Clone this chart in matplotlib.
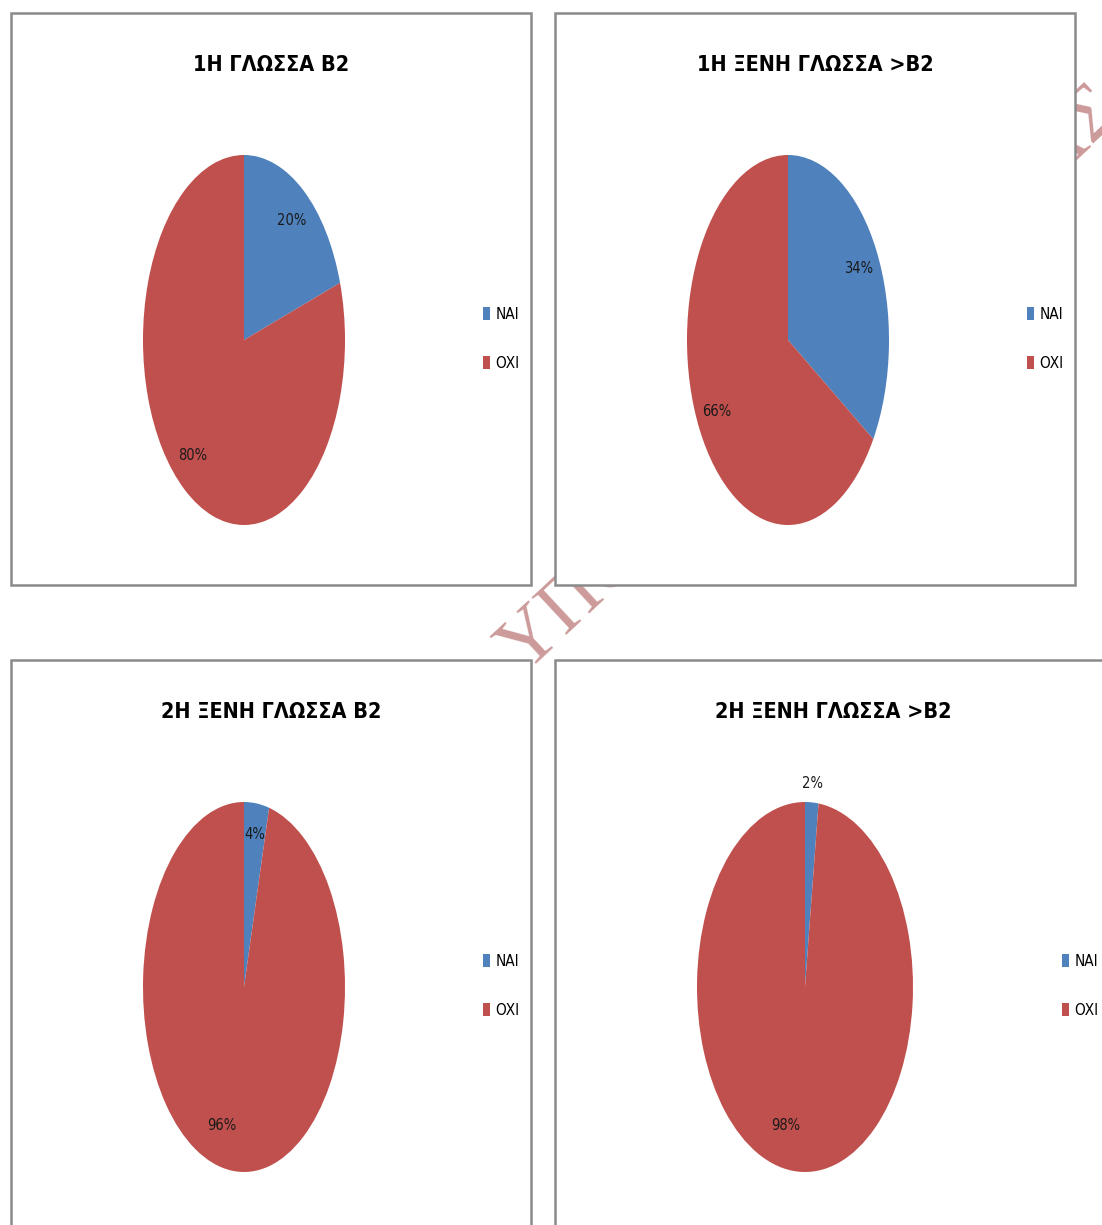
import matplotlib
matplotlib.use("Agg")
import matplotlib.pyplot as plt
from matplotlib.patches import Rectangle, Patch
import numpy as np

titles = ["1Η ΓΛΩΣΣΑ Β2", "1Η ΞΕΝΗ ΓΛΩΣΣΑ >Β2", "2Η ΞΕΝΗ ΓΛΩΣΣΑ Β2", "2Η ΞΕΝΗ ΓΛΩΣΣΑ >Β2"]
categories = ["ΝΑΙ", "ΟΧΙ"]
nai = [20, 34, 4, 2]
oxi = [80, 66, 96, 98]
colors = ["#4F81BD", "#C0504D"]

plt.rcParams['font.family'] = ['DejaVu Sans']
plt.rcParams['font.stretch'] = 'condensed'

W, H = 1102, 1225
fig = plt.figure(figsize=(W / 100, H / 100), dpi=100)

def fx(px):
    return px / W

def fy(py):
    return 1 - py / H

# panel frames (pixel boxes: left, top, right, bottom)
panels = [(11, 13, 531, 585), (555, 13, 1075, 585), (11, 660, 531, 1240), (555, 660, 1120, 1240)]
# pie ellipse: centre x, centre y, radius x, radius y
pies = [(244, 340, 101, 185), (788, 340, 101, 185), (244, 987, 101, 185), (805, 987, 108, 185)]
title_x = [271, 815, 271, 833]
legend_x = [483, 1027, 483, 1062]
label_dist = [[0.8, 0.8], [0.8, 0.8], [0.83, 0.78], [1.1, 0.77]]
label_turn = [[0, -3], [0, 0], [0, -9], [0, -10]]

# watermark behind the panels
fig.text(fx(524), fy(674), "ΥΠΟΥΡΓΕΙΟ ΠΑΙΔΕΙΑΣ", rotation=43, rotation_mode='anchor',
         ha='left', va='baseline', fontsize=56, color='#CD9A9A', family='Liberation Serif',
         stretch='normal', zorder=-3)

for i in range(4):
    l, t, r, b = panels[i]
    fig.patches.append(Rectangle((fx(l), fy(b)), fx(r - l), fy(t) - fy(b), transform=fig.transFigure,
                                 facecolor='white', edgecolor='#8A8A8A', linewidth=1.8, zorder=-2))

    cx, cy, rx, ry = pies[i]
    ax = fig.add_axes([fx(cx - rx), fy(cy + ry), fx(2 * rx), fy(cy - ry) - fy(cy + ry)])
    ax.set_zorder(1)
    ax.patch.set_visible(False)
    wedges, texts, autotexts = ax.pie([nai[i], oxi[i]], colors=colors, startangle=90, counterclock=False,
                                      autopct='%d%%', pctdistance=0.8, radius=1,
                                      textprops={'fontsize': 10.5, 'color': '#1a1a1a'})
    for w, at, d, turn in zip(wedges, autotexts, label_dist[i], label_turn[i]):
        ang = np.deg2rad((w.theta1 + w.theta2) / 2 + turn)
        at.set_position((d * np.cos(ang), d * np.sin(ang)))
    ax.set_xlim(-1, 1)
    ax.set_ylim(-1, 1)
    ax.set_aspect('auto')
    ax.axis('off')

    fig.text(fx(title_x[i]), fy(t + 52), titles[i], ha='center', va='center',
             fontsize=15.5, fontweight='bold', color='black')

    handles = [Patch(facecolor=c, edgecolor='none') for c in colors]
    fig.legend(handles, categories, loc='upper left',
               bbox_to_anchor=(fx(legend_x[i]), fy(cy - 33)), frameon=False,
               fontsize=11, handlelength=0.45, handleheight=0.95, handletextpad=0.35,
               labelspacing=2.2, borderpad=0, borderaxespad=0)

fig.savefig("out.png", dpi=100)
